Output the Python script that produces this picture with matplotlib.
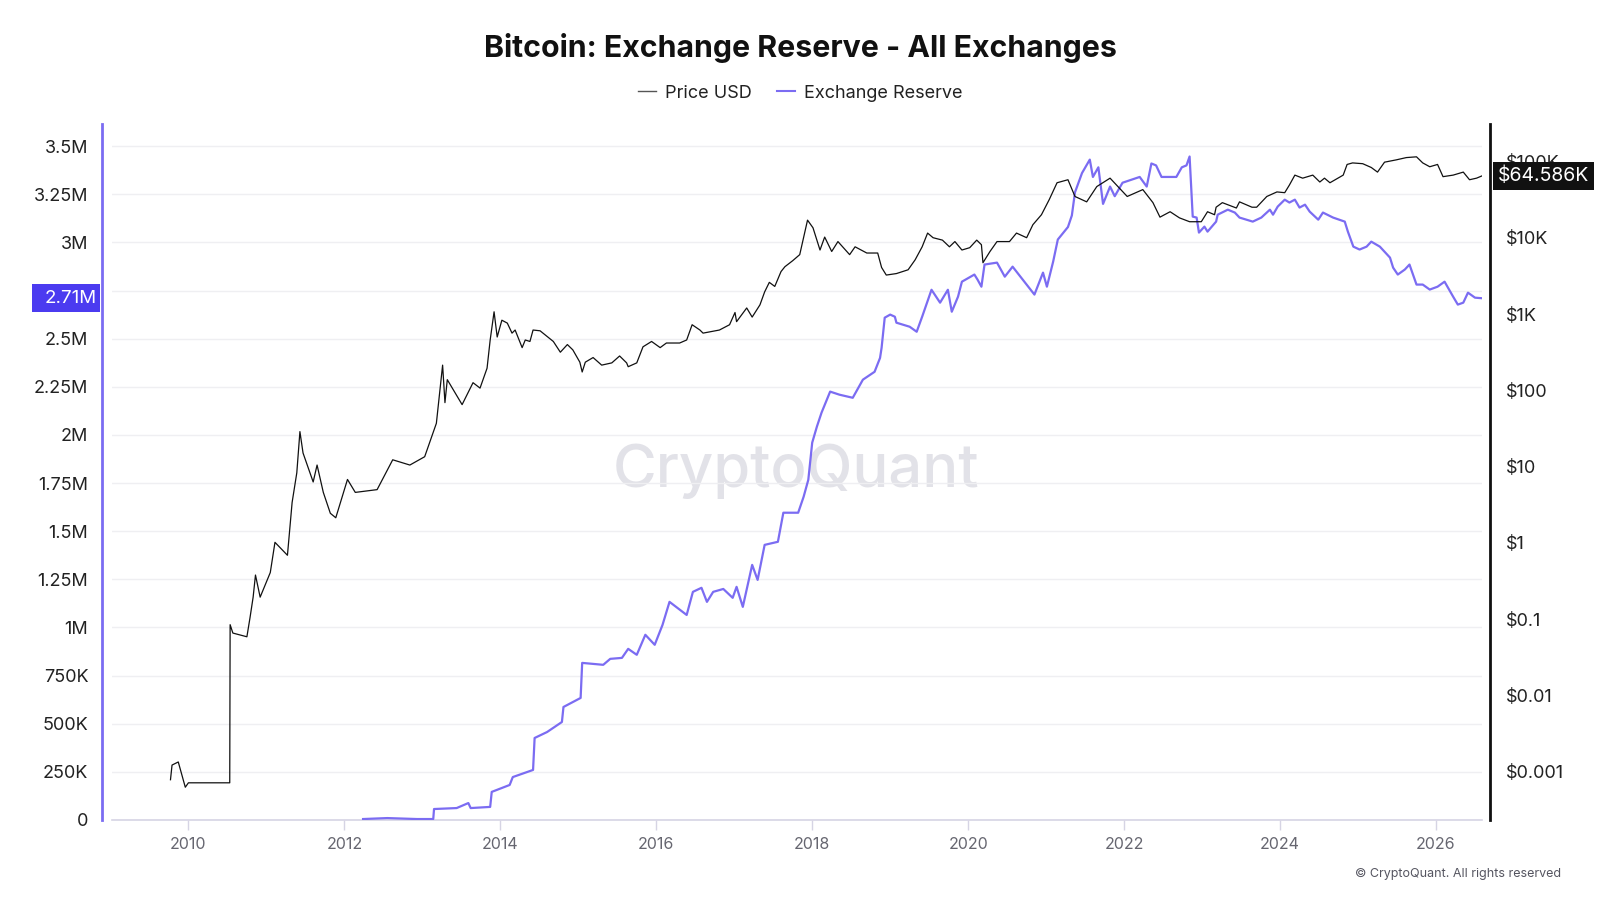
import matplotlib
matplotlib.use("Agg")
import matplotlib.pyplot as plt
import matplotlib.transforms as mtransforms
from matplotlib.lines import Line2D
from matplotlib.patches import Rectangle
from matplotlib.ticker import FixedLocator

plt.rcParams['font.family'] = ['Inter', 'DejaVu Sans']

# price (USD, log scale, right axis)
price_years = [2009.77, 2009.79, 2009.87, 2009.96, 2010.00, 2010.53, 2010.535, 2010.57, 2010.75, 2010.79,
               2010.83, 2010.86, 2010.92, 2011.05, 2011.11, 2011.27, 2011.33, 2011.39, 2011.43, 2011.47,
               2011.60, 2011.65, 2011.73, 2011.82, 2011.89, 2012.04, 2012.14, 2012.42, 2012.62, 2012.84,
               2013.03, 2013.18, 2013.26, 2013.29, 2013.32, 2013.51, 2013.65, 2013.74, 2013.83, 2013.87,
               2013.92, 2013.96, 2014.02, 2014.09, 2014.15, 2014.19, 2014.28, 2014.32, 2014.38, 2014.42,
               2014.51, 2014.61, 2014.68, 2014.77, 2014.86, 2014.93, 2015.02, 2015.05, 2015.09, 2015.19,
               2015.30, 2015.43, 2015.53, 2015.62, 2015.64, 2015.75, 2015.83, 2015.94, 2016.05, 2016.13,
               2016.30, 2016.39, 2016.46, 2016.56, 2016.60, 2016.81, 2016.94, 2017.01, 2017.03, 2017.16,
               2017.23, 2017.33, 2017.39, 2017.45, 2017.52, 2017.60, 2017.65, 2017.75, 2017.84, 2017.94,
               2018.01, 2018.10, 2018.16, 2018.25, 2018.33, 2018.48, 2018.55, 2018.70, 2018.84, 2018.89,
               2018.95, 2019.08, 2019.23, 2019.32, 2019.41, 2019.48, 2019.55, 2019.67, 2019.76, 2019.83,
               2019.92, 2020.02, 2020.11, 2020.17, 2020.19, 2020.28, 2020.37, 2020.53, 2020.62, 2020.75,
               2020.83, 2020.94, 2021.04, 2021.14, 2021.28, 2021.37, 2021.52, 2021.65, 2021.82, 2022.04,
               2022.24, 2022.37, 2022.46, 2022.59, 2022.71, 2022.84, 2022.99, 2023.07, 2023.16, 2023.18,
               2023.26, 2023.44, 2023.48, 2023.64, 2023.70, 2023.83, 2023.96, 2024.06, 2024.12, 2024.19,
               2024.29, 2024.42, 2024.51, 2024.57, 2024.64, 2024.81, 2024.86, 2024.93, 2025.06, 2025.17,
               2025.25, 2025.34, 2025.49, 2025.62, 2025.75, 2025.83, 2025.92, 2026.02, 2026.09, 2026.22,
               2026.35, 2026.43, 2026.52, 2026.59]
price_usd = [0.00079, 0.00123, 0.00135, 0.00063, 0.00072, 0.00072, 0.085, 0.066, 0.059, 0.105,
             0.195, 0.38, 0.195, 0.41, 1.02, 0.69, 3.4, 8.3, 28.8, 15.1,
             6.3, 10.5, 4.6, 2.45, 2.14, 6.8, 4.6, 5.0, 12.3, 10.5,
             13.5, 37, 214, 69, 138, 65, 126, 107, 195, 457,
             1070, 500, 830, 760, 562, 617, 363, 457, 437, 617,
             603, 500, 437, 316, 398, 339, 234, 174, 234, 269,
             214, 229, 282, 229, 204, 229, 372, 437, 363, 417,
             417, 457, 724, 617, 562, 617, 724, 1047, 794, 1200,
             912, 1320, 1950, 2600, 2300, 3600, 4170, 5000, 6000, 17000,
             13500, 6900, 10200, 6600, 8900, 6000, 7600, 6300, 6300, 4070,
             3240, 3390, 3800, 5130, 7600, 11500, 10000, 9300, 7600, 8900,
             6900, 7400, 9300, 8100, 4700, 6600, 8900, 8900, 11500, 10000,
             14800, 20000, 31600, 52500, 57500, 34700, 29500, 46800, 60300, 34700,
             42700, 28800, 18600, 21900, 18200, 16200, 16200, 21900, 20000, 25100,
             28800, 24500, 29500, 25100, 25100, 34700, 39800, 38900, 49000, 66100,
             60300, 66100, 53700, 60300, 52500, 66100, 91200, 95500, 93300, 83200,
             72400, 97700, 104700, 112200, 114800, 95500, 85100, 91200, 63100, 66100,
             72400, 57500, 60300, 64586]

# exchange reserve (BTC, left axis)
reserve_years = [2012.24, 2012.55, 2012.93, 2013.14, 2013.15, 2013.44, 2013.59, 2013.62, 2013.87, 2013.89,
                 2014.12, 2014.16, 2014.42, 2014.44, 2014.60, 2014.79, 2014.81, 2015.03, 2015.05, 2015.32,
                 2015.41, 2015.56, 2015.64, 2015.75, 2015.86, 2015.98, 2016.08, 2016.17, 2016.39, 2016.47,
                 2016.58, 2016.65, 2016.73, 2016.86, 2016.98, 2017.03, 2017.11, 2017.23, 2017.30, 2017.39,
                 2017.56, 2017.63, 2017.82, 2017.89, 2017.95, 2018.00, 2018.06, 2018.12, 2018.23, 2018.35,
                 2018.52, 2018.65, 2018.80, 2018.87, 2018.89, 2018.93, 2019.00, 2019.06, 2019.08, 2019.25,
                 2019.34, 2019.41, 2019.53, 2019.64, 2019.74, 2019.79, 2019.87, 2019.92, 2020.08, 2020.12,
                 2020.17, 2020.21, 2020.37, 2020.47, 2020.57, 2020.70, 2020.85, 2020.96, 2021.01, 2021.09,
                 2021.15, 2021.28, 2021.33, 2021.37, 2021.46, 2021.56, 2021.60, 2021.67, 2021.73, 2021.82,
                 2021.88, 2021.98, 2022.20, 2022.29, 2022.35, 2022.41, 2022.48, 2022.67, 2022.74, 2022.80,
                 2022.84, 2022.88, 2022.93, 2022.96, 2023.03, 2023.07, 2023.18, 2023.20, 2023.33, 2023.42,
                 2023.48, 2023.65, 2023.76, 2023.87, 2023.91, 2023.97, 2024.06, 2024.12, 2024.19, 2024.25,
                 2024.32, 2024.38, 2024.49, 2024.55, 2024.68, 2024.83, 2024.87, 2024.94, 2025.02, 2025.11,
                 2025.17, 2025.28, 2025.41, 2025.45, 2025.51, 2025.60, 2025.66, 2025.75, 2025.83, 2025.92,
                 2026.02, 2026.11, 2026.22, 2026.28, 2026.35, 2026.41, 2026.50, 2026.59]
reserve_btc = [0.005e6, 0.010e6, 0.005e6, 0.005e6, 0.057e6, 0.062e6, 0.088e6, 0.062e6, 0.068e6, 0.146e6,
               0.182e6, 0.223e6, 0.260e6, 0.426e6, 0.457e6, 0.509e6, 0.587e6, 0.634e6, 0.816e6, 0.806e6,
               0.837e6, 0.842e6, 0.889e6, 0.858e6, 0.962e6, 0.910e6, 1.013e6, 1.133e6, 1.065e6, 1.185e6,
               1.206e6, 1.133e6, 1.185e6, 1.200e6, 1.154e6, 1.211e6, 1.107e6, 1.325e6, 1.247e6, 1.429e6,
               1.445e6, 1.596e6, 1.596e6, 1.679e6, 1.767e6, 1.960e6, 2.043e6, 2.116e6, 2.225e6, 2.209e6,
               2.193e6, 2.287e6, 2.328e6, 2.400e6, 2.453e6, 2.609e6, 2.625e6, 2.614e6, 2.583e6, 2.562e6,
               2.536e6, 2.614e6, 2.754e6, 2.687e6, 2.754e6, 2.640e6, 2.718e6, 2.796e6, 2.833e6, 2.807e6,
               2.770e6, 2.885e6, 2.895e6, 2.822e6, 2.874e6, 2.807e6, 2.729e6, 2.843e6, 2.770e6, 2.900e6,
               3.015e6, 3.080e6, 3.140e6, 3.260e6, 3.360e6, 3.430e6, 3.340e6, 3.390e6, 3.200e6, 3.290e6,
               3.240e6, 3.310e6, 3.340e6, 3.290e6, 3.410e6, 3.400e6, 3.340e6, 3.340e6, 3.390e6, 3.400e6,
               3.446e6, 3.134e6, 3.129e6, 3.051e6, 3.082e6, 3.056e6, 3.108e6, 3.144e6, 3.170e6, 3.155e6,
               3.129e6, 3.108e6, 3.129e6, 3.170e6, 3.144e6, 3.186e6, 3.222e6, 3.207e6, 3.222e6, 3.181e6,
               3.196e6, 3.160e6, 3.118e6, 3.155e6, 3.129e6, 3.108e6, 3.056e6, 2.978e6, 2.963e6, 2.978e6,
               3.004e6, 2.978e6, 2.921e6, 2.869e6, 2.833e6, 2.859e6, 2.885e6, 2.781e6, 2.781e6, 2.755e6,
               2.770e6, 2.796e6, 2.718e6, 2.677e6, 2.687e6, 2.739e6, 2.713e6, 2.710e6]

left_ticks = [0, 250e3, 500e3, 750e3, 1e6, 1.25e6, 1.5e6, 1.75e6, 2e6, 2.25e6, 2.5e6, 2.75e6, 3e6, 3.25e6, 3.5e6]
left_labels = ['0', '250K', '500K', '750K', '1M', '1.25M', '1.5M', '1.75M', '2M', '2.25M', '2.5M', '2.75M',
               '3M', '3.25M', '3.5M']
right_ticks = [0.001, 0.01, 0.1, 1, 10, 100, 1000, 10000, 100000]
right_labels = ['$0.001', '$0.01', '$0.1', '$1', '$10', '$100', '$1K', '$10K', '$100K']
year_ticks = [2010, 2012, 2014, 2016, 2018, 2020, 2022, 2024, 2026]

purple = '#7B6CF2'
fig = plt.figure(figsize=(16, 9), dpi=100)
ax = fig.add_axes([112 / 1600, 1 - 820 / 900, (1482 - 112) / 1600, (820 - 124) / 900])
ax2 = ax.twinx()

ax.plot(reserve_years, reserve_btc, color=purple, lw=1.6, zorder=3)
ax2.plot(price_years, price_usd, color='#111111', lw=0.9, zorder=3)

ax.set_xlim(2009.02, 2026.59)
ax.set_ylim(0, 3.615e6)
ax2.set_yscale('log')
ax2.set_ylim(10 ** -3.63, 10 ** 5.49)

ax.yaxis.set_major_locator(FixedLocator(left_ticks))
ax.set_yticklabels(left_labels)
ax2.yaxis.set_major_locator(FixedLocator(right_ticks))
ax2.yaxis.set_minor_locator(FixedLocator([]))
ax2.set_yticklabels(right_labels)
ax.set_xticks(year_ticks)
ax.set_xticklabels([str(y) for y in year_ticks])

ax.grid(axis='y', color='#EFEFF2', lw=1)
ax.set_axisbelow(True)

for a in (ax, ax2):
    a.spines['top'].set_visible(False)
ax.spines['right'].set_visible(False)
ax2.spines['left'].set_visible(False)
ax2.spines['bottom'].set_visible(False)
ax.spines['left'].set_color(purple)
ax.spines['left'].set_linewidth(2)
ax.spines['left'].set_position(('outward', 7))
ax2.spines['right'].set_color('#111111')
ax2.spines['right'].set_linewidth(2)
ax2.spines['right'].set_position(('outward', 6))
ax.spines['bottom'].set_color('#D6D4E4')
ax.spines['bottom'].set_linewidth(1.2)

ax.tick_params(axis='y', length=0, pad=10, labelsize=13, labelcolor='#222222')
ax2.tick_params(axis='y', length=0, pad=11, labelsize=13, labelcolor='#222222')
ax.tick_params(axis='x', length=7, width=1, color='#D6D4E4', pad=5, labelsize=11.5, labelcolor='#666670')

# watermark
ax.text(796 / 1600, 1 - 471 / 900, 'CryptoQuant', transform=fig.transFigure, ha='center', va='center',
        fontsize=43, fontweight='medium', color='#E2E2E8', zorder=0)

# current value boxes
tl = mtransforms.blended_transform_factory(fig.transFigure, ax.transData)
box_h = 0.143e6
ax.add_patch(Rectangle((32 / 1600, reserve_btc[-1] - box_h / 2), 68 / 1600, box_h, transform=tl,
                       facecolor='#4B3BF0', edgecolor='none', clip_on=False, zorder=5))
ax.text(97 / 1600, reserve_btc[-1], '2.71M', transform=tl, ha='right', va='center', fontsize=13.5,
        color='white', zorder=6, clip_on=False)
tr = mtransforms.blended_transform_factory(fig.transFigure, ax2.transData)
ax2.text(1498 / 1600, price_usd[-1], '$64.586K', transform=tr, ha='left', va='center', fontsize=14,
         color='white', zorder=5, clip_on=False,
         bbox=dict(boxstyle='square,pad=0.25', fc='#111111', ec='none'))

fig.text(0.5, 1 - 48 / 900, 'Bitcoin: Exchange Reserve - All Exchanges', ha='center', va='center',
         fontsize=21.8, fontweight='bold', color='#111111')

handles = [Line2D([], [], color='#555555', lw=1), Line2D([], [], color=purple, lw=1.5)]
fig.legend(handles, ['Price USD', 'Exchange Reserve'], loc='center', bbox_to_anchor=(0.5, 1 - 93 / 900),
           ncol=2, frameon=False, fontsize=13, handlelength=1.0, handletextpad=0.5, columnspacing=1.4,
           labelcolor='#222222')

fig.text(1561 / 1600, 1 - 874 / 900, '\u00a9 CryptoQuant. All rights reserved', ha='right', va='center',
         fontsize=9, color='#555560')

fig.savefig('out.png', dpi=100)
